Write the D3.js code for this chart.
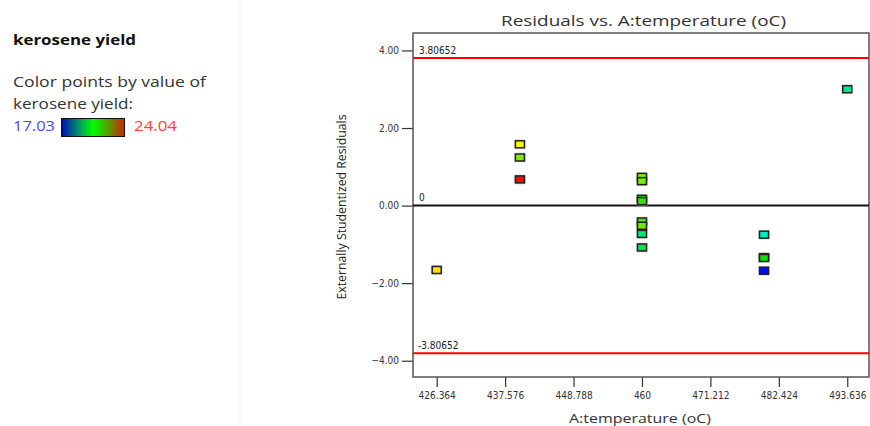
<!DOCTYPE html>
<html>
<head>
<meta charset="utf-8">
<script src="https://cdn.jsdelivr.net/npm/d3@7"></script>
<style>
  body { margin: 0; background: #fff; }
  svg { font-family: "Open Sans", "DejaVu Sans", sans-serif; }
</style>
</head>
<body>
<div id="chart-area"></div>
<script>
// residuals
var temperature = [426.364, 440, 440, 440,
    460, 460, 460, 460, 460, 460, 460, 460,
    480, 480, 480, 480, 493.636];
var residual = [-1.66, 1.58, 1.24, 0.675,
    0.74, 0.63, 0.175, 0.115, -0.41, -0.52, -0.73, -1.08,
    -0.75, -1.33, -1.35, -1.68, 3.0];
var yieldValue = [22.5, 22.3, 21.4, 24.0,
    21.4, 21.3, 20.6, 20.9, 21.0, 21.3, 19.6, 19.9,
    19.0, 20.5, 20.6, 17.1, 19.5];

var xTicks = [426.364, 437.576, 448.788, 460, 471.212, 482.424, 493.636];
var yTicks = [-4, -2, 0, 2, 4];
var limit = 3.80652;
var yieldMin = 17.03, yieldMax = 24.04;

var width = 870, height = 426;
var plotLeft = 413, plotRight = 869, plotTop = 33, plotBottom = 377;

var svg = d3.select("#chart-area")
    .append("svg")
    .attr("width", width)
    .attr("height", height);

var x = d3.scaleLinear()
    .domain([422.48, 497.2])
    .range([plotLeft, plotRight]);

var y = d3.scaleLinear()
    .domain([-4.42, 4.45])
    .range([plotBottom, plotTop]);

var mid = (yieldMin + yieldMax) / 2;
var color = d3.scaleLinear()
    .domain([yieldMin, (yieldMin + mid) / 2, mid, (mid + yieldMax) / 2, yieldMax])
    .range(["#0000ff", "#00f0e0", "#00e000", "#ffff00", "#ff0000"]);

// text helper, the picture's text is stretched a little sideways
function label(px, py, size, fill, txt, len) {
    var t = svg.append("text")
        .attr("x", px).attr("y", py)
        .attr("font-size", size).attr("fill", fill)
        .text(txt);
    if (len) t.attr("textLength", len).attr("lengthAdjust", "spacingAndGlyphs");
    return t;
}

// legend on the left
label(13, 45, 13.5, "#111", "kerosene yield", 123).attr("font-weight", "bold");
label(13, 87, 14, "#333", "Color points by value of", 193);
label(13, 109, 14, "#333", "kerosene yield:", 120);
label(13, 131, 14, "#4a4aff", yieldMin.toFixed(2), 42);
label(134, 131, 14, "#ff4040", yieldMax.toFixed(2), 43);

var grad = svg.append("defs").append("linearGradient")
    .attr("id", "bar");
[["0%", "#0008b0"], ["25%", "#008a70"], ["50%", "#00ff00"], ["75%", "#5a9a00"], ["100%", "#d02000"]]
    .forEach(function(s) {
        grad.append("stop").attr("offset", s[0]).attr("stop-color", s[1]);
    });
svg.append("rect")
    .attr("x", 61.5).attr("y", 118.5)
    .attr("width", 63).attr("height", 18)
    .attr("fill", "url(#bar)")
    .attr("stroke", "#111");

svg.append("line")
    .attr("x1", 240).attr("x2", 240)
    .attr("y1", 0).attr("y2", height)
    .attr("stroke", "#f2f2f2");

// title
label(501, 26, 15, "#333", "Residuals vs. A:temperature (oC)", 285);

// axes
var tickFont = "\"DejaVu Sans Condensed\", \"DejaVu Sans\", sans-serif";
var xAxis = svg.append("g")
    .attr("transform", "translate(0," + plotBottom + ")")
    .call(d3.axisBottom(x).tickValues(xTicks).tickSize(10).tickPadding(5)
        .tickFormat(function(d) { return d3.format("~f")(d); }));

var yAxis = svg.append("g")
    .attr("transform", "translate(" + plotLeft + ",0)")
    .call(d3.axisLeft(y).tickValues(yTicks).tickSize(11).tickPadding(3)
        .tickFormat(d3.format(".2f")));

[xAxis, yAxis].forEach(function(g) {
    g.select(".domain").remove();
    g.selectAll("line").attr("stroke", "#333").attr("stroke-width", 1.2);
    g.selectAll("text").attr("fill", "#333").attr("font-size", 10)
        .attr("font-family", tickFont);
});

// plot frame
svg.append("rect")
    .attr("x", plotLeft).attr("y", plotTop)
    .attr("width", plotRight - plotLeft).attr("height", plotBottom - plotTop)
    .attr("fill", "none")
    .attr("stroke", "#555")
    .attr("stroke-width", 1.5);

// limit lines and zero line
[limit, -limit].forEach(function(v) {
    svg.append("line")
        .attr("x1", plotLeft).attr("x2", plotRight)
        .attr("y1", y(v)).attr("y2", y(v))
        .attr("stroke", "#ff0000").attr("stroke-width", 2);
});
svg.append("line")
    .attr("x1", plotLeft).attr("x2", plotRight)
    .attr("y1", y(0)).attr("y2", y(0))
    .attr("stroke", "#111").attr("stroke-width", 2);

label(419, y(limit) - 4, 10, "#222", limit.toFixed(5)).attr("font-family", tickFont);
label(419, y(0) - 5, 10, "#222", "0").attr("font-family", tickFont);
label(418, y(-limit) - 4, 10, "#222", (-limit).toFixed(5)).attr("font-family", tickFont);

// points
var pts = temperature.map(function(t, i) {
    return { t: t, r: residual[i], k: yieldValue[i] };
});

svg.selectAll("rect.halo")
    .data(pts)
    .enter()
    .append("rect")
    .attr("class", "halo")
    .attr("x", function(d) { return x(d.t) - 6; })
    .attr("y", function(d) { return y(d.r) - 5; })
    .attr("width", 12).attr("height", 10)
    .attr("rx", 2)
    .attr("fill", "#bbb")
    .attr("opacity", 0.5);

svg.selectAll("rect.pt")
    .data(pts)
    .enter()
    .append("rect")
    .attr("class", "pt")
    .attr("x", function(d) { return x(d.t) - 4.5; })
    .attr("y", function(d) { return y(d.r) - 3.5; })
    .attr("width", 9).attr("height", 7)
    .attr("fill", function(d) { return color(d.k); })
    .attr("stroke", "#222")
    .attr("stroke-width", 1.5);

// axis titles
label(569, 423, 13, "#333", "A:temperature (oC)", 142);

svg.append("text")
    .attr("transform", "translate(346,207) rotate(-90)")
    .attr("text-anchor", "middle")
    .attr("font-size", 12).attr("fill", "#222")
    .attr("textLength", 185).attr("lengthAdjust", "spacingAndGlyphs")
    .text("Externally Studentized Residuals");
</script>
</body>
</html>
